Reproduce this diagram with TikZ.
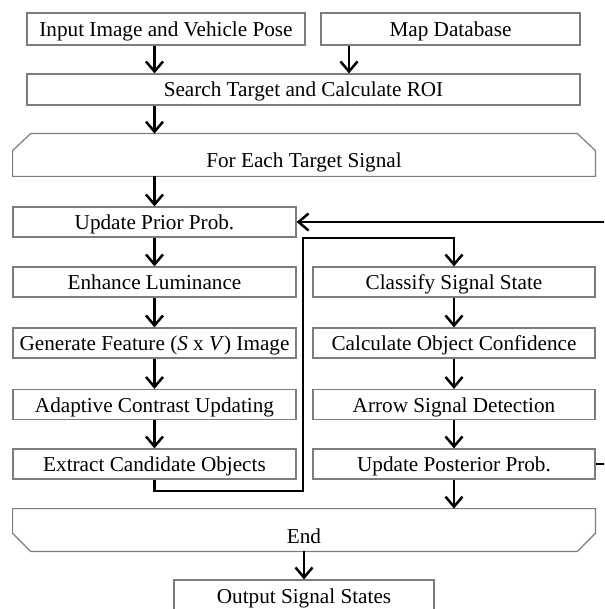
\documentclass[tikz,border=0pt]{standalone}
\usepackage{fontspec}
\setmainfont{Liberation Serif}
\usetikzlibrary{arrows.meta}
\definecolor{framegray}{RGB}{125,125,125}

\begin{document}
\begin{tikzpicture}[x=0.5pt,y=-0.5pt,
    font=\fontsize{10.6}{12}\selectfont,
    proc/.style={draw=framegray,line width=0.6pt,inner sep=0pt,minimum height=15pt,text height=9pt,text depth=1.5pt},
    leftcol/.style={proc,minimum width=141.5pt},
    rightcol/.style={proc,minimum width=141pt},
    loopend/.style={inner sep=0pt,minimum width=291pt,minimum height=21pt,text height=13pt,text depth=0pt},
    frame/.style={draw=framegray,line width=0.6pt},
    flow/.style={draw=black,line width=1.25pt,-{Straight Barb[length=5pt,width=8.5pt]}}]
    \useasboundingbox (0,0) rectangle (604,609);
    \clip (0,0) rectangle (604,609);
    \node[proc,minimum width=139pt,minimum height=16pt] (inp) at (166,29) {Input Image and Vehicle Pose};
    \node[proc,minimum width=129.5pt,minimum height=16pt] (map) at (450.5,29) {Map Database};
    \node[proc,minimum width=276.5pt,minimum height=15.5pt] (search) at (303.5,89.5) {Search Target and Calculate ROI};
    \node[loopend] (each) at (304,155) {For Each Target Signal};
    \draw[frame] (each.south west) -- ([yshift=-8.5pt]each.north west) -- ([xshift=9pt]each.north west)
    -- ([xshift=-9pt]each.north east) -- ([yshift=-8.5pt]each.north east) -- (each.south east) -- cycle;
    \node[leftcol] (prior) at (154.5,222) {Update Prior Prob.};
    \node[leftcol] (enhance) at (154.5,282) {Enhance Luminance};
    \node[leftcol] (feature) at (154.5,343) {Generate Feature (\textit{S} x \textit{V}) Image};
    \node[leftcol] (contrast) at (154.5,404.5) {Adaptive Contrast Updating};
    \node[leftcol] (extract) at (154.5,464) {Extract Candidate Objects};
    \node[rightcol] (classify) at (454,282) {Classify Signal State};
    \node[rightcol] (confidence) at (454,343) {Calculate Object Confidence};
    \node[rightcol] (arrowdet) at (454,404.5) {Arrow Signal Detection};
    \node[rightcol] (posterior) at (454,464) {Update Posterior Prob.};
    \node[loopend] (finish) at (304,530) {End};
    \draw[frame] (finish.north west) -- ([yshift=9pt]finish.south west) -- ([xshift=9pt]finish.south west)
    -- ([xshift=-9pt]finish.south east) -- ([yshift=9pt]finish.south east) -- (finish.north east) -- cycle;
    \node[proc,minimum width=130pt,minimum height=15.5pt] (output) at (304,595.5) {Output Signal States};
    \coordinate (mapdrop) at (349,0);
    \coordinate (backturn) at (625,0);
    \coordinate (crossbot) at (303,491);
    \coordinate (crosstop) at (303,238);
    \draw[flow] (inp.south -| prior) -- (search.north -| prior);
    \draw[flow] (map.south -| mapdrop) -- (search.north -| mapdrop);
    \draw[flow] (search.south -| prior) -- (each.north -| prior);
    \draw[flow] (each.south -| prior) -- (prior.north);
    \draw[flow] (prior) -- (enhance);
    \draw[flow] (enhance) -- (feature);
    \draw[flow] (feature) -- (contrast);
    \draw[flow] (contrast) -- (extract);
    \draw[flow] (extract.south) |- (crossbot) -- (crosstop) -| (classify.north);
    \draw[flow] (classify) -- (confidence);
    \draw[flow] (confidence) -- (arrowdet);
    \draw[flow] (arrowdet) -- (posterior);
    \draw[flow] (posterior.east) -- (posterior.east -| backturn) |- (prior.east);
    \draw[flow] (posterior.south) -- (posterior.south |- finish.north);
    \draw[flow] (finish) -- (output);
\end{tikzpicture}
\end{document}
